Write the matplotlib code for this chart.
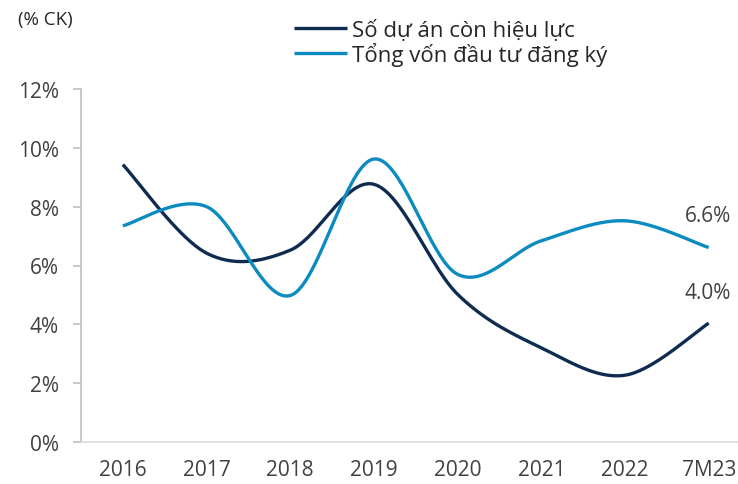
import numpy as np
import matplotlib
matplotlib.use("Agg")
import matplotlib.pyplot as plt

plt.rcParams['font.family'] = ['Open Sans', 'DejaVu Sans']

categories = ["2016", "2017", "2018", "2019", "2020", "2021", "2022", "7M23"]
so_du_an = [9.43, 6.42, 6.52, 8.76, 5.02, 3.2, 2.27, 4.04]
tong_von = [7.35, 8.0, 4.98, 9.62, 5.7, 6.84, 7.52, 6.61]
label_names = ["Số dự án còn hiệu lực", "Tổng vốn đầu tư đăng ký"]
end_labels = ["4.0%", "6.6%"]

DARK = "#0f2b4f"
BLUE = "#0c8bc0"
TXT = "#404040"


def Smooth(Y, n=40):
    """Catmull-Rom style smoothing, like the smooth line in Excel"""
    y = np.array(Y, dtype=float)
    x = np.arange(len(y), dtype=float)
    xs, ys = [], []
    for i in range(len(y) - 1):
        y0 = y[max(i - 1, 0)]
        y3 = y[min(i + 2, len(y) - 1)]
        x0 = x[max(i - 1, 0)]
        x3 = x[min(i + 2, len(y) - 1)]
        # bezier control points
        cx1 = x[i] + (x[i + 1] - x0) / 6
        cy1 = y[i] + (y[i + 1] - y0) / 6
        cx2 = x[i + 1] - (x3 - x[i]) / 6
        cy2 = y[i + 1] - (y3 - y[i]) / 6
        t = np.linspace(0, 1, n)
        bx = (1 - t) ** 3 * x[i] + 3 * (1 - t) ** 2 * t * cx1 + 3 * (1 - t) * t ** 2 * cx2 + t ** 3 * x[i + 1]
        by = (1 - t) ** 3 * y[i] + 3 * (1 - t) ** 2 * t * cy1 + 3 * (1 - t) * t ** 2 * cy2 + t ** 3 * y[i + 1]
        xs.append(bx)
        ys.append(by)
    return np.concatenate(xs), np.concatenate(ys)


fig = plt.figure(figsize=(7.38, 4.85), dpi=100)
ax = fig.add_axes([81 / 738, 42 / 485, 657 / 738, 353 / 485])

sx, sy = Smooth(so_du_an)
ax.plot(sx, sy, color=DARK, lw=2.4, label=label_names[0], solid_capstyle="butt")
tx, ty = Smooth(tong_von)
ax.plot(tx, ty, color=BLUE, lw=2.4, label=label_names[1], solid_capstyle="butt")

ax.set_xlim(-0.5, 7.35)
ax.set_ylim(0, 12)
ax.set_yticks(range(0, 13, 2))
ax.set_yticklabels(["%d%%" % v for v in range(0, 13, 2)])
ax.set_xticks(range(len(categories)))
ax.set_xticklabels(categories)

for s in ["top", "right"]:
    ax.spines[s].set_visible(False)
ax.spines["left"].set_color("#bfbfbf")
ax.spines["bottom"].set_color("#d9d9d9")
ax.spines["left"].set_linewidth(1.2)
ax.spines["bottom"].set_linewidth(1.2)
ax.tick_params(axis="y", colors="#bfbfbf", labelcolor=TXT, labelsize=15, length=6, width=1.2, pad=10)
ax.tick_params(axis="x", length=0, labelcolor=TXT, labelsize=15, pad=12)

ax.annotate(end_labels[0], (7, so_du_an[-1]), xytext=(16, 22), textcoords="offset points",
            ha="right", va="center", fontsize=15, color=TXT)
ax.annotate(end_labels[1], (7, tong_von[-1]), xytext=(16, 23), textcoords="offset points",
            ha="right", va="center", fontsize=15, color=TXT)

fig.text(18 / 738, 1 - 20 / 485, "(% CK)", fontsize=13.5, color="#262626", va="center")

fig.legend(loc="upper left", bbox_to_anchor=(274 / 738, 1.0), frameon=False,
           fontsize=16, handlelength=2.4, handletextpad=0.2, labelspacing=0.05,
           labelcolor="#262626")

fig.savefig("out.png", dpi=100)
